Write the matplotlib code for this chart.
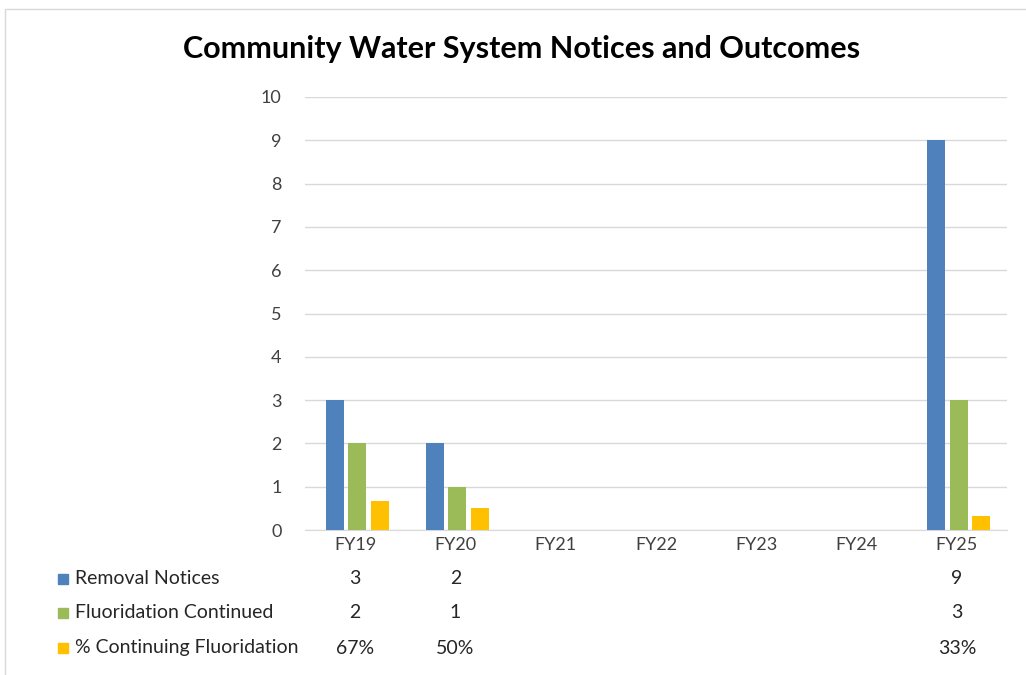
import numpy as np
import matplotlib.pyplot as plt
from matplotlib.patches import Rectangle

# データ
years = ['FY19', 'FY20', 'FY21', 'FY22', 'FY23', 'FY24', 'FY25']
removal = [3, 2, np.nan, np.nan, np.nan, np.nan, 9]
continued = [2, 1, np.nan, np.nan, np.nan, np.nan, 3]
pct = [0.67, 0.50, np.nan, np.nan, np.nan, np.nan, 0.33]
pct_labels = ['67%', '50%', '', '', '', '', '33%']

series_names = ['Removal Notices', 'Fluoridation Continued', '% Continuing Fluoridation']
colors = ['#4F81BD', '#9BBB59', '#FFC000']

plt.rcParams['font.family'] = ['Lato', 'DejaVu Sans']

fig = plt.figure(figsize=(10.26, 6.75), dpi=100)
ax = fig.add_axes([0.2973, 0.2148, 0.6842, 0.6415])

x = np.arange(len(years))
w = 0.18
step = 0.225
for i, (vals, c) in enumerate(zip([removal, continued, pct], colors)):
    ax.bar(x + (i - 1) * step + 0.02, vals, width=w, color=c, zorder=3)

ax.set_xlim(-0.5, len(years) - 0.5)
ax.set_ylim(0, 10)
ax.set_yticks(range(0, 11))
ax.grid(axis='y', color='#D9D9D9', linewidth=1, zorder=0)
for s in ['top', 'right', 'left']:
    ax.spines[s].set_visible(False)
ax.spines['bottom'].set_color('#D9D9D9')
ax.tick_params(axis='both', length=0, labelsize=13, labelcolor='#404040')
ax.tick_params(axis='y', pad=17)
ax.set_xticks(x)
ax.set_xticklabels(years)
ax.tick_params(axis='x', pad=5)

fig.text(0.508, 0.928, 'Community Water System Notices and Outcomes',
         ha='center', va='center', fontsize=22, fontweight='bold', color='black')

# データテーブル
row_y = [579, 613, 648]
row_text = [
    ['' if np.isnan(v) else f'{int(v)}' for v in removal],
    ['' if np.isnan(v) else f'{int(v)}' for v in continued],
    pct_labels,
]
for r, (name, c, texts) in enumerate(zip(series_names, colors, row_text)):
    yf = 1 - row_y[r] / 675
    fig.patches.append(Rectangle((58 / 1026, yf - 5 / 675), 10 / 1026, 10 / 675,
                                 transform=fig.transFigure, color=c))
    fig.text(75 / 1026, yf, name, ha='left', va='center', fontsize=14, color='#262626')
    for xi, t in zip(x, texts):
        xf = ax.transData.transform((xi, 0))[0] / fig.bbox.width
        fig.text(xf, yf, t, ha='center', va='center', fontsize=14, color='#262626')

# 外枠
fig.patches.append(Rectangle((5 / 1026, -0.01), 1.1, 1 - 9 / 675 + 0.01,
                             transform=fig.transFigure, fill=False,
                             edgecolor='#D9D9D9', linewidth=1))

fig.savefig('out.png', dpi=100, facecolor='white')
